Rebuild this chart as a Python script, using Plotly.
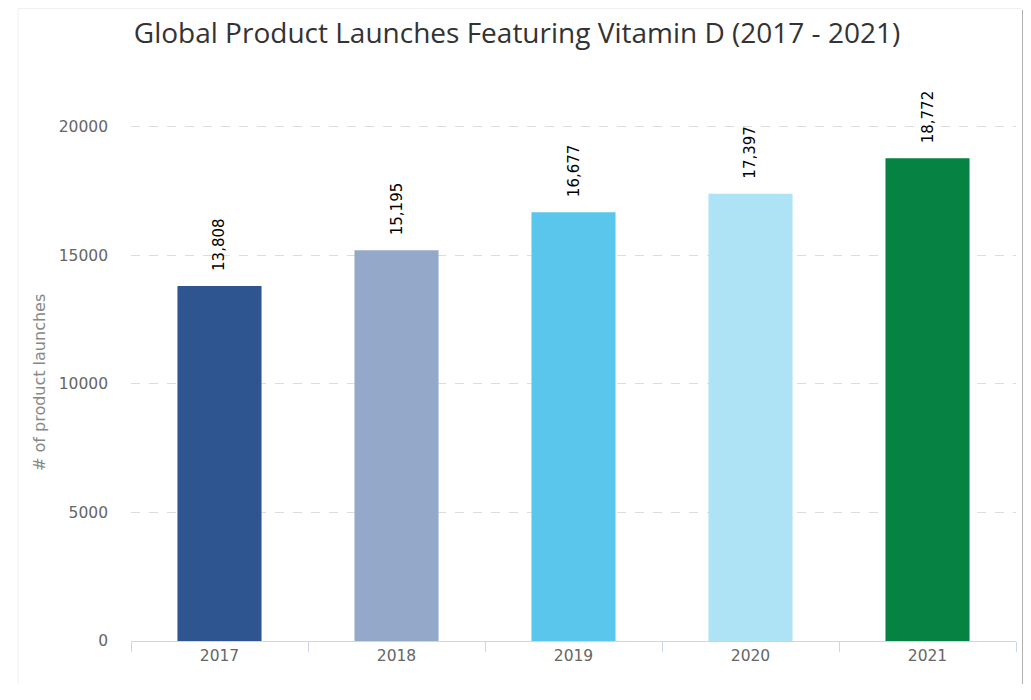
import plotly.graph_objects as go

years = ["2017", "2018", "2019", "2020", "2021"]
launches = [13808, 15195, 16677, 17397, 18772]
bar_colors = ["#2E5590", "#94A8C9", "#5BC6EC", "#ADE3F4", "#068343"]
y_ticks = [0, 5000, 10000, 15000, 20000]

# page renders with an 8px body margin; keep the page short/narrow enough to avoid scrollbars
OFF = 8
W, H = 1031 - OFF, 700 - 3 * OFF
L, R, T = 131 - OFF, 15, 101 - OFF
B = H - (641 - OFF)
pw, ph = W - L - R, H - T - B

fig = go.Figure(go.Bar(
    x=years, y=launches,
    marker=dict(color=bar_colors, line=dict(width=0)),
    width=0.475,
    hoverinfo="x+y",
))

def px_x(x):
    return (x - OFF - L) / pw

def px_y(y):
    return (H - B - (y - OFF)) / ph

# category axis: annotations use the category index
for i, v in enumerate(launches):
    fig.add_annotation(x=i, y=v, xref="x", yref="y", text=f"{v:,}",
                       textangle=-90, showarrow=False, yanchor="bottom",
                       xanchor="center", yshift=13,
                       font=dict(family="DejaVu Sans", size=15, color="#000000"))

# y axis title
fig.add_annotation(x=px_x(40), y=px_y(383), xref="paper", yref="paper",
                   text="# of product launches", textangle=-90, showarrow=False,
                   xanchor="center", yanchor="middle",
                   font=dict(family="DejaVu Sans", size=16, color="#888888"))

shapes = []
shadow = ["#b0b0b0", "#a0a0a0", "#9c9c9c", "#a4a4a4", "#b0b0b0", "#bcbcbc", "#c8c8c8", "#d4d4d4", "#e0e0e0"]
for i, c in enumerate(shadow):
    shapes.append(dict(type="rect", xref="paper", yref="paper",
                       x0=px_x(1022 + i), x1=px_x(1023 + i),
                       y0=px_y(OFF + H), y1=px_y(10 + i * 0.5),
                       fillcolor=c, line=dict(width=0), layer="above"))
# faint frame lines
shapes.append(dict(type="line", xref="paper", yref="paper",
                   x0=px_x(18), x1=px_x(18), y0=px_y(OFF + H), y1=px_y(8),
                   line=dict(color="#f0f0f0", width=1)))
shapes.append(dict(type="line", xref="paper", yref="paper",
                   x0=px_x(18), x1=px_x(1022), y0=px_y(8.5), y1=px_y(8.5),
                   line=dict(color="#f0f0f0", width=1)))

fig.update_layout(
    width=W, height=H,
    margin=dict(l=L, r=R, t=T, b=B),
    paper_bgcolor="white", plot_bgcolor="white",
    title=dict(text="Global Product Launches Featuring Vitamin D (2017 - 2021)",
               x=(517 - OFF) / W, xanchor="center", xref="container",
               y=1 - (33 - OFF) / H, yanchor="middle",
               font=dict(family="Open Sans", size=28, color="#333333")),
    bargap=0.525,
    showlegend=False,
    shapes=shapes,
    xaxis=dict(
        type="category",
        range=[-0.5, len(years) - 0.5],
        showline=True, linecolor="#ccd6eb", linewidth=1,
        ticks="outside", tickson="boundaries", ticklen=10, tickcolor="#ccd6eb",
        tickfont=dict(family="DejaVu Sans", size=15.5, color="#666666"),
        showgrid=False,
    ),
    yaxis=dict(
        range=[0, 21000],
        tickvals=y_ticks,
        ticktext=[str(v) for v in y_ticks],
        showgrid=True, gridcolor="#dddddd", griddash="dash", gridwidth=1,
        zeroline=False, showline=False,
        ticks="", ticklabelstandoff=22,
        tickfont=dict(family="DejaVu Sans", size=15.5, color="#666666"),
    ),
)

fig.write_html("out.html")
